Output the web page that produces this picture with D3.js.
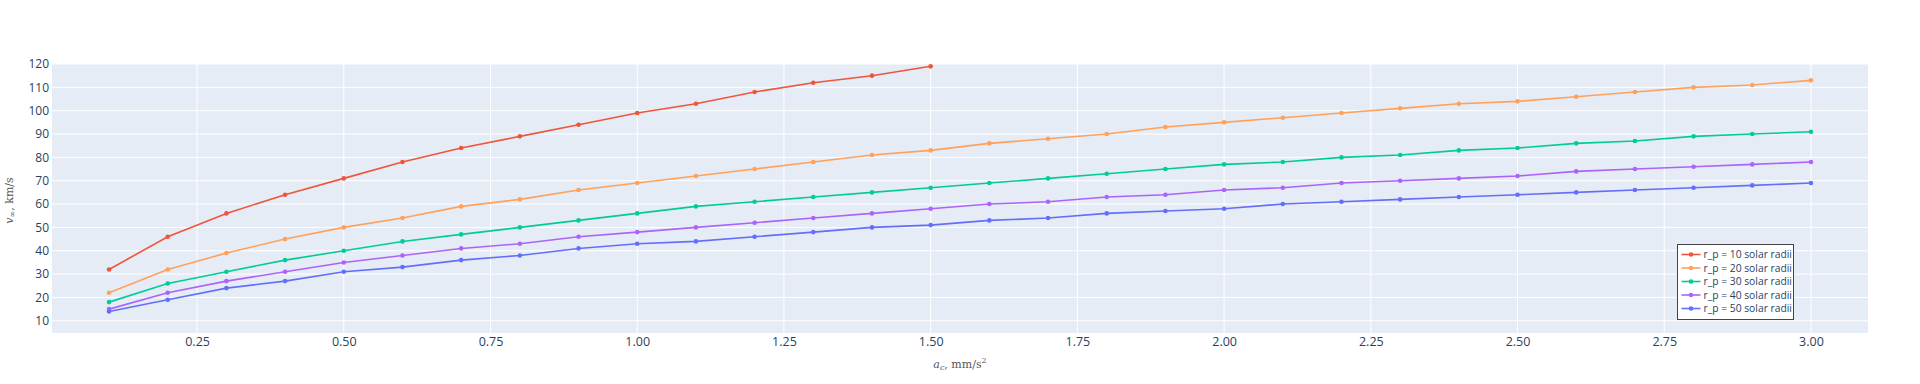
<!DOCTYPE html>
<html><head><meta charset="utf-8">
<script src="https://cdn.jsdelivr.net/npm/d3@7"></script>
<style>body{margin:0;background:#fff}svg{display:block}</style>
</head><body>
<svg id="c" width="1920" height="384"></svg>
<script>
const accel = [0.1,0.2,0.3,0.4,0.5,0.6,0.7,0.8,0.9,1.0,1.1,1.2,1.3,1.4,1.5,1.6,1.7,1.8,1.9,2.0,2.1,2.2,2.3,2.4,2.5,2.6,2.7,2.8,2.9,3.0];
const rp10 = [32,46,56,64,71,78,84,89,94,99,103,108,112,115,119];
const rp20 = [22,32,39,45,50,54,59,62,66,69,72,75,78,81,83,86,88,90,93,95,97,99,101,103,104,106,108,110,111,113];
const rp30 = [18,26,31,36,40,44,47,50,53,56,59,61,63,65,67,69,71,73,75,77,78,80,81,83,84,86,87,89,90,91];
const rp40 = [15,22,27,31,35,38,41,43,46,48,50,52,54,56,58,60,61,63,64,66,67,69,70,71,72,74,75,76,77,78];
const rp50 = [14,19,24,27,31,33,36,38,41,43,44,46,48,50,51,53,54,56,57,58,60,61,62,63,64,65,66,67,68,69];
const seriesNames = ["r_p = 10 solar radii","r_p = 20 solar radii","r_p = 30 solar radii","r_p = 40 solar radii","r_p = 50 solar radii"];
const seriesValues = [rp10, rp20, rp30, rp40, rp50];
const colors = ["#EF553B","#FFA15A","#00CC96","#AB63FA","#636EFA"];
const xTicks = [0.25,0.5,0.75,1.0,1.25,1.5,1.75,2.0,2.25,2.5,2.75,3.0];
const yTicks = [10,20,30,40,50,60,70,80,90,100,110,120];

const L=52, R=1868, T=64, B=333;
const svg = d3.select("#c");
const x = d3.scaleLinear().domain([0.0028,3.0972]).range([L,R]);
const y = d3.scaleLinear().domain([4.77,120]).range([B,T]);

svg.append("rect").attr("x",L).attr("y",T).attr("width",R-L).attr("height",B-T).attr("fill","#E5ECF6");

// gridlines
const g = svg.append("g");
g.selectAll(".xg").data(xTicks).join("line")
 .attr("x1",d=>x(d)).attr("x2",d=>x(d)).attr("y1",T).attr("y2",B)
 .attr("stroke","#fff").attr("stroke-width",1);
g.selectAll(".yg").data(yTicks).join("line")
 .attr("y1",d=>y(d)).attr("y2",d=>y(d)).attr("x1",L).attr("x2",R)
 .attr("stroke","#fff").attr("stroke-width",1);

// axes
const xAxis = d3.axisBottom(x).tickValues(xTicks).tickFormat(d3.format(".2f")).tickSize(0).tickPadding(4);
const yAxis = d3.axisLeft(y).tickValues(yTicks).tickFormat(d3.format("d")).tickSize(0).tickPadding(3);
const gx = svg.append("g").attr("transform",`translate(0,${B})`).call(xAxis);
const gy = svg.append("g").attr("transform",`translate(${L},0)`).call(yAxis);
[gx,gy].forEach(a=>{
  a.select(".domain").remove();
  a.selectAll("text").attr("font-family","'Open Sans', sans-serif").attr("font-size",12).attr("fill","#2a3f5f");
});
gx.selectAll("text").attr("font-size",12.5);

// series
const line = d3.line().x(d=>x(d[0])).y(d=>y(d[1]));
seriesValues.forEach((vals,i)=>{
  const pts = vals.map((v,j)=>[accel[j],v]);
  const sg = svg.append("g");
  sg.append("path").datum(pts).attr("d",line).attr("fill","none")
    .attr("stroke",colors[i]).attr("stroke-width",1.6);
  sg.selectAll("circle").data(pts).join("circle")
    .attr("cx",d=>x(d[0])).attr("cy",d=>y(d[1])).attr("r",2.3).attr("fill",colors[i]);
});

// axis titles (math-like)
const tx = svg.append("text").attr("x",(L+R)/2).attr("y",368).attr("text-anchor","middle")
 .attr("font-family","'DejaVu Serif', 'Liberation Serif', serif").attr("font-size",11).attr("fill","#555");
tx.append("tspan").attr("font-style","italic").text("a");
tx.append("tspan").attr("font-style","italic").attr("font-size",8).attr("dy",2).text("c");
tx.append("tspan").attr("dy",-2).text(", mm/s");
tx.append("tspan").attr("font-size",8).attr("dy",-5).text("2");

const ty = svg.append("text").attr("transform",`translate(13,${(T+B)/2 + 2}) rotate(-90)`).attr("text-anchor","middle")
 .attr("font-family","'DejaVu Serif', 'Liberation Serif', serif").attr("font-size",11).attr("fill","#555");
ty.append("tspan").attr("font-style","italic").text("v");
ty.append("tspan").attr("font-size",8).attr("dy",2).text("∞");
ty.append("tspan").attr("dy",-2).text(", km/s");

// legend
const lg = svg.append("g").attr("transform","translate(1677.5,244.5)");
lg.append("rect").attr("width",116).attr("height",75).attr("fill","#fff").attr("stroke","#444").attr("stroke-width",1);
seriesNames.forEach((n,i)=>{
  const yy = 10 + i*13.5;
  lg.append("line").attr("x1",4).attr("x2",23).attr("y1",yy).attr("y2",yy).attr("stroke",colors[i]).attr("stroke-width",1.6);
  lg.append("circle").attr("cx",13.5).attr("cy",yy).attr("r",2.3).attr("fill",colors[i]);
  lg.append("text").attr("x",26).attr("y",yy+3.5).attr("font-family","'Open Sans', sans-serif").attr("font-size",10.3).attr("fill","#2a3f5f").text(n);
});
</script>
</body></html>
